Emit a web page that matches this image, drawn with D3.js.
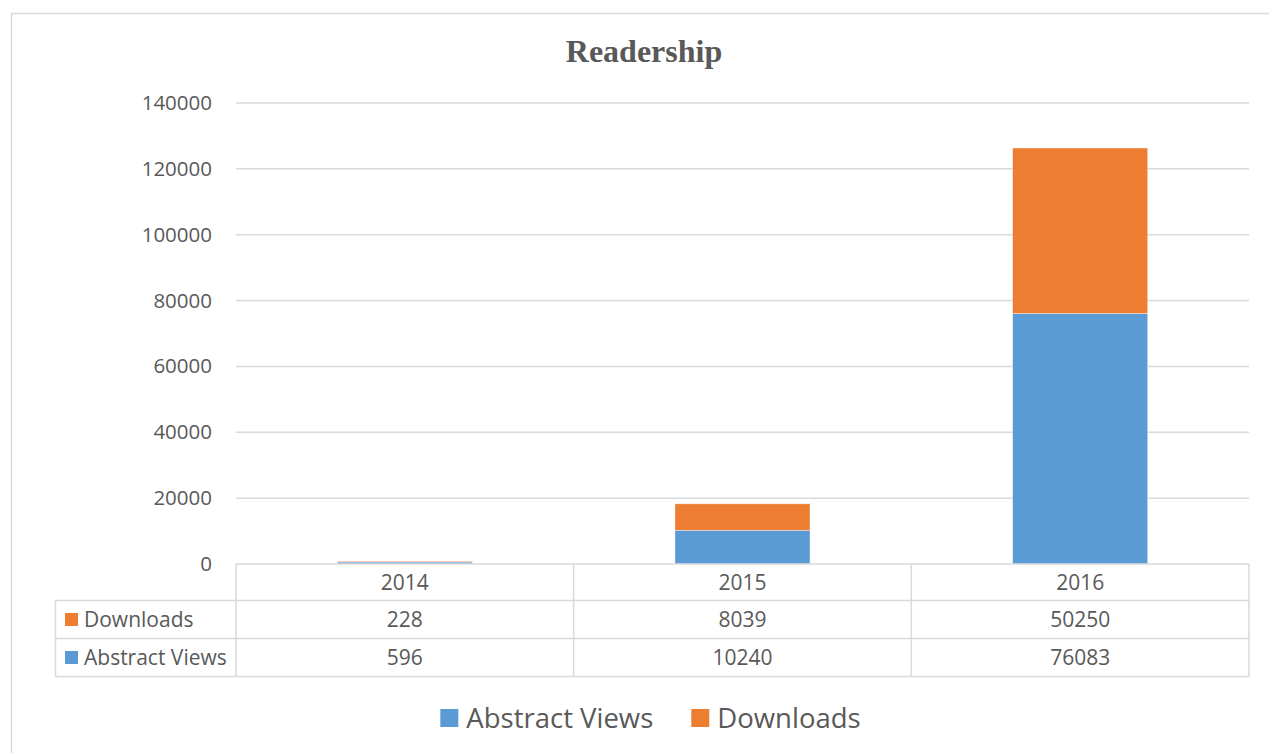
<!DOCTYPE html>
<html lang="en">
<head>
    <meta charset="UTF-8">
    <title>Readership</title>
    <script src="https://d3js.org/d3.v7.min.js"></script>
    <style>
        body {
            margin: 0;
            background-color: #fff;
        }
        svg text {
            font-family: "Open Sans", sans-serif;
            fill: #595959;
        }
        .chart-title {
            font-family: "Liberation Serif", "Times New Roman", serif !important;
            font-weight: bold;
            font-size: 32px;
        }
        .grid line {
            stroke: #d9d9d9;
            stroke-width: 1.5px;
        }
        .cell-line {
            stroke: #d9d9d9;
            stroke-width: 1.5px;
        }
    </style>
</head>
<body>
    <svg id="chart"></svg>

    <script>
        // chart data
        const years = ["2014", "2015", "2016"];
        const abstractViews = [596, 10240, 76083];
        const downloads = [228, 8039, 50250];
        const seriesNames = ["Abstract Views", "Downloads"];
        const seriesColors = ["#5b9bd5", "#ed7d31"];
        const yMax = 140000;

        const W = 1269, H = 753;
        const plot = {left: 236, right: 1249, top: 103, bottom: 564};

        const svg = d3.select("#chart")
            .attr("width", W)
            .attr("height", H);

        // outer chart frame
        svg.append("rect")
            .attr("x", 11.5)
            .attr("y", 13.5)
            .attr("width", 1300)
            .attr("height", 800)
            .attr("fill", "#fff")
            .attr("stroke", "#d9d9d9")
            .attr("stroke-width", 1.5);

        svg.append("text")
            .attr("class", "chart-title")
            .attr("x", 644)
            .attr("y", 62)
            .attr("text-anchor", "middle")
            .text("Readership");

        const x = d3.scaleBand()
            .domain(years)
            .range([plot.left, plot.right])
            .paddingInner(0.6)
            .paddingOuter(0.3);

        const y = d3.scaleLinear()
            .domain([0, yMax])
            .range([plot.bottom, plot.top]);

        // gridlines
        svg.append("g")
            .attr("class", "grid")
            .selectAll("line")
            .data(y.ticks(7).filter(d => d > 0))
            .join("line")
            .attr("x1", plot.left)
            .attr("x2", plot.right)
            .attr("y1", d => y(d))
            .attr("y2", d => y(d));

        // y axis labels
        const yAxis = svg.append("g")
            .attr("transform", `translate(${plot.left},0)`)
            .call(d3.axisLeft(y).ticks(7).tickSize(0).tickPadding(24).tickFormat(d3.format("d")));
        yAxis.select(".domain").remove();
        yAxis.selectAll("text")
            .style("font-size", "20.5px")
            .style("font-family", "'Open Sans', sans-serif")
            .attr("fill", "#595959");

        // stacked bars
        const rows = years.map((yr, i) => ({
            year: yr,
            "Abstract Views": abstractViews[i],
            "Downloads": downloads[i]
        }));
        const stacked = d3.stack().keys(seriesNames)(rows);

        svg.append("g")
            .selectAll("g")
            .data(stacked)
            .join("g")
            .attr("fill", (d, i) => seriesColors[i])
            .selectAll("rect")
            .data(d => d)
            .join("rect")
            .attr("x", d => x(d.data.year))
            .attr("width", x.bandwidth())
            .attr("y", d => y(d[1]))
            .attr("height", d => y(d[0]) - y(d[1]))
            .attr("stroke", "#fff")
            .attr("stroke-opacity", 0.5)
            .attr("stroke-width", 0.75);

        // data table
        const step = x.step();
        const rowH = [plot.bottom, 600.5, 638.5, 676.5];
        const labelLeft = 55.5;
        const table = svg.append("g");

        // horizontal lines
        table.append("line").attr("class", "cell-line")
            .attr("x1", plot.left).attr("x2", plot.right)
            .attr("y1", rowH[0]).attr("y2", rowH[0]);
        rowH.slice(1).forEach(yy => {
            table.append("line").attr("class", "cell-line")
                .attr("x1", labelLeft).attr("x2", plot.right)
                .attr("y1", yy).attr("y2", yy);
        });
        // vertical lines
        d3.range(years.length + 1).forEach(i => {
            const xx = plot.left + i * step;
            table.append("line").attr("class", "cell-line")
                .attr("x1", xx).attr("x2", xx)
                .attr("y1", rowH[0]).attr("y2", rowH[3]);
        });
        table.append("line").attr("class", "cell-line")
            .attr("x1", labelLeft).attr("x2", labelLeft)
            .attr("y1", rowH[1]).attr("y2", rowH[3]);

        // header: years
        table.selectAll(".yr")
            .data(years)
            .join("text")
            .attr("class", "yr")
            .attr("x", d => x(d) + x.bandwidth() / 2)
            .attr("y", (rowH[0] + rowH[1]) / 2)
            .attr("dy", "0.36em")
            .attr("text-anchor", "middle")
            .style("font-size", "21px")
            .text(d => d);

        // table rows: Downloads then Abstract Views
        const tableRows = [
            {name: "Downloads", values: downloads, color: seriesColors[1]},
            {name: "Abstract Views", values: abstractViews, color: seriesColors[0]}
        ];
        tableRows.forEach((r, ri) => {
            const cy = (rowH[ri + 1] + rowH[ri + 2]) / 2;
            table.append("rect")
                .attr("x", 65)
                .attr("y", cy - 6.5)
                .attr("width", 13)
                .attr("height", 13)
                .attr("fill", r.color);
            table.append("text")
                .attr("x", 84)
                .attr("y", cy)
                .attr("dy", "0.36em")
                .style("font-size", "21px")
                .text(r.name);
            table.selectAll(null)
                .data(r.values)
                .join("text")
                .attr("x", (d, i) => x(years[i]) + x.bandwidth() / 2)
                .attr("y", cy)
                .attr("dy", "0.36em")
                .attr("text-anchor", "middle")
                .style("font-size", "21px")
                .text(d => d);
        });

        // legend
        const legend = svg.append("g");
        const items = legend.selectAll("g")
            .data(seriesNames)
            .join("g");
        items.append("rect")
            .attr("width", 18)
            .attr("height", 18)
            .attr("y", -9)
            .attr("fill", (d, i) => seriesColors[i]);
        items.append("text")
            .attr("x", 26)
            .attr("dy", "0.36em")
            .style("font-size", "27.5px")
            .text(d => d);

        let lx = 0;
        items.each(function () {
            const g = d3.select(this);
            g.attr("transform", `translate(${lx},0)`);
            lx += 26 + g.select("text").node().getComputedTextLength() + 38;
        });
        const legendWidth = lx - 38;
        legend.attr("transform", `translate(${650.5 - legendWidth / 2},718)`);
    </script>
</body>
</html>
